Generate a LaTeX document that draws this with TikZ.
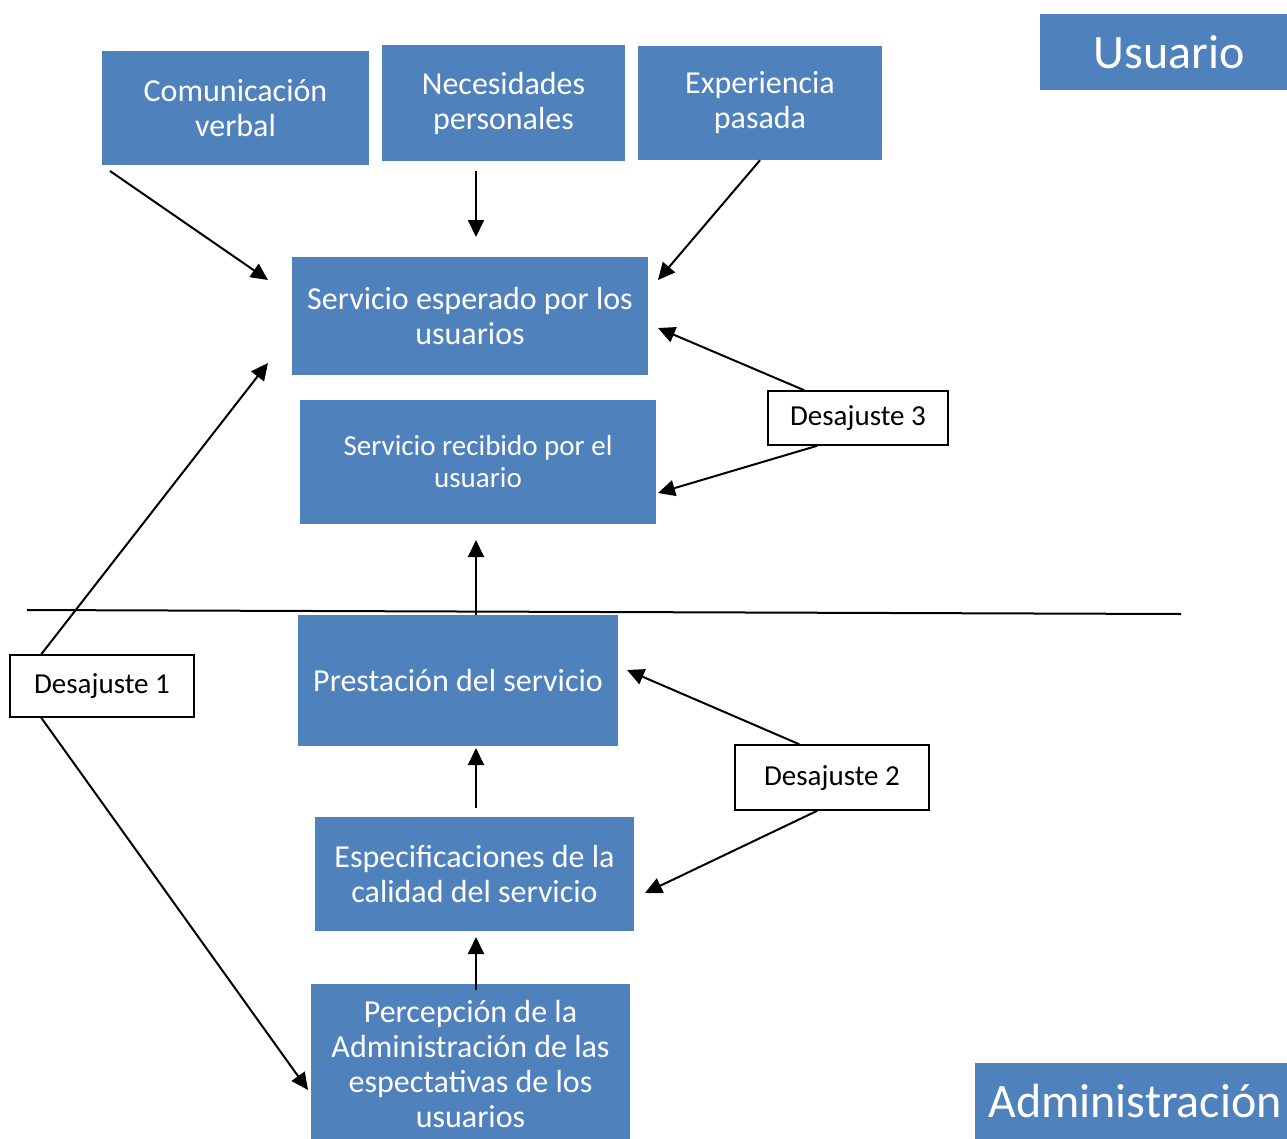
\documentclass[tikz,border=0pt]{standalone}
\usepackage{fontspec}
\setmainfont{Carlito}
\usetikzlibrary{arrows.meta}
\definecolor{boxblue}{RGB}{79,129,189}
\tikzset{
  bluebox/.style={fill=boxblue, text=white, align=center, inner sep=0pt,
    font=\fontsize{32}{35}\selectfont},
  gapbox/.style={draw=black, line width=1.5pt, fill=white, align=center,
    inner sep=0pt, font=\fontsize{29}{32}\selectfont},
  sidebox/.style={fill=boxblue, text=white, inner sep=0pt,
    font=\fontsize{48}{55}\selectfont},
  arr/.style={line width=2pt, -{Triangle[length=17pt,width=16pt]}},
}

\begin{document}
\begin{tikzpicture}[x=1pt,y=-1pt]
  \useasboundingbox (0,0) rectangle (1287,1138);
  % dividing line
  \draw[line width=2pt] (27,610) -- (1181,614);
  % user side
  \node[sidebox, minimum width=258, minimum height=76] (usu) at (1169,52) {Usuario};
  \node[bluebox, minimum width=267, minimum height=114] (com) at (235.5,108) {Comunicación\\verbal};
  \node[bluebox, minimum width=243, minimum height=116] (nec) at (503.5,103) {Necesidades\\personales};
  \node[bluebox, minimum width=244, minimum height=114] (exp) at (760,103) {Experiencia\\pasada};
  \node[bluebox, minimum width=356, minimum height=118] (esp) at (470,316) {Servicio esperado por los\\usuarios};
  \node[bluebox, minimum width=356, minimum height=124, font=\fontsize{29}{32}\selectfont] (rec) at (478,462) {Servicio recibido por el\\usuario};
  % administration side
  \node[bluebox, minimum width=320, minimum height=131] (pre) at (458,680.5) {Prestación del servicio};
  \node[bluebox, minimum width=319, minimum height=114] (spec) at (474.5,874) {Especificaciones de la\\calidad del servicio};
  \node[bluebox, minimum width=319, minimum height=160] (per) at (470.5,1064) {Percepción de la\\Administración de las\\espectativas de los\\usuarios};
  \node[sidebox, minimum width=320, minimum height=76] (adm) at (1135,1101) {Administración};
  % gaps
  \node[gapbox, minimum width=184, minimum height=62] (d1) at (102,686) {Desajuste 1};
  \node[gapbox, minimum width=194, minimum height=65] (d2) at (832,777.5) {Desajuste 2};
  \node[gapbox, minimum width=180, minimum height=54] (d3) at (858,418) {Desajuste 3};
  % arrow ends
  \coordinate (com-out) at (110,171);
  \coordinate (nec-out) at (476,171);
  \coordinate (esp-in1) at (268,280);
  \coordinate (esp-in2) at (476,237);
  \coordinate (esp-in3) at (658,280);
  \coordinate (esp-in4) at (658,328);
  \coordinate (esp-in5) at (268,363);
  \coordinate (rec-in1) at (658,493);
  \coordinate (rec-in2) at (476,540);
  \coordinate (pre-in1) at (627,670);
  \coordinate (pre-in2) at (476,748);
  \coordinate (spec-out) at (476,808);
  \coordinate (spec-in1) at (645,893);
  \coordinate (spec-in2) at (476,937);
  \coordinate (per-out) at (476,990);
  \coordinate (per-in) at (308,1090);
  % arrows
  \draw[arr] (com-out) -- (esp-in1);
  \draw[arr] (nec-out) -- (esp-in2);
  \draw[arr] (exp.south) -- (esp-in3);
  \draw[arr] (d3.north west) ++(37,0) -- (esp-in4);
  \draw[arr] (d3.south west) ++(50,0) -- (rec-in1);
  \draw[arr] (d1.north west) ++(32,0) -- (esp-in5);
  \draw[arr] (d1.south west) ++(32,0) -- (per-in);
  \draw[arr] (pre.north) ++(18,0) -- (rec-in2);
  \draw[arr] (d2.north west) ++(65,0) -- (pre-in1);
  \draw[arr] (d2.south west) ++(83,0) -- (spec-in1);
  \draw[arr] (spec-out) -- (pre-in2);
  \draw[arr] (per-out) -- (spec-in2);
\end{tikzpicture}
\end{document}
